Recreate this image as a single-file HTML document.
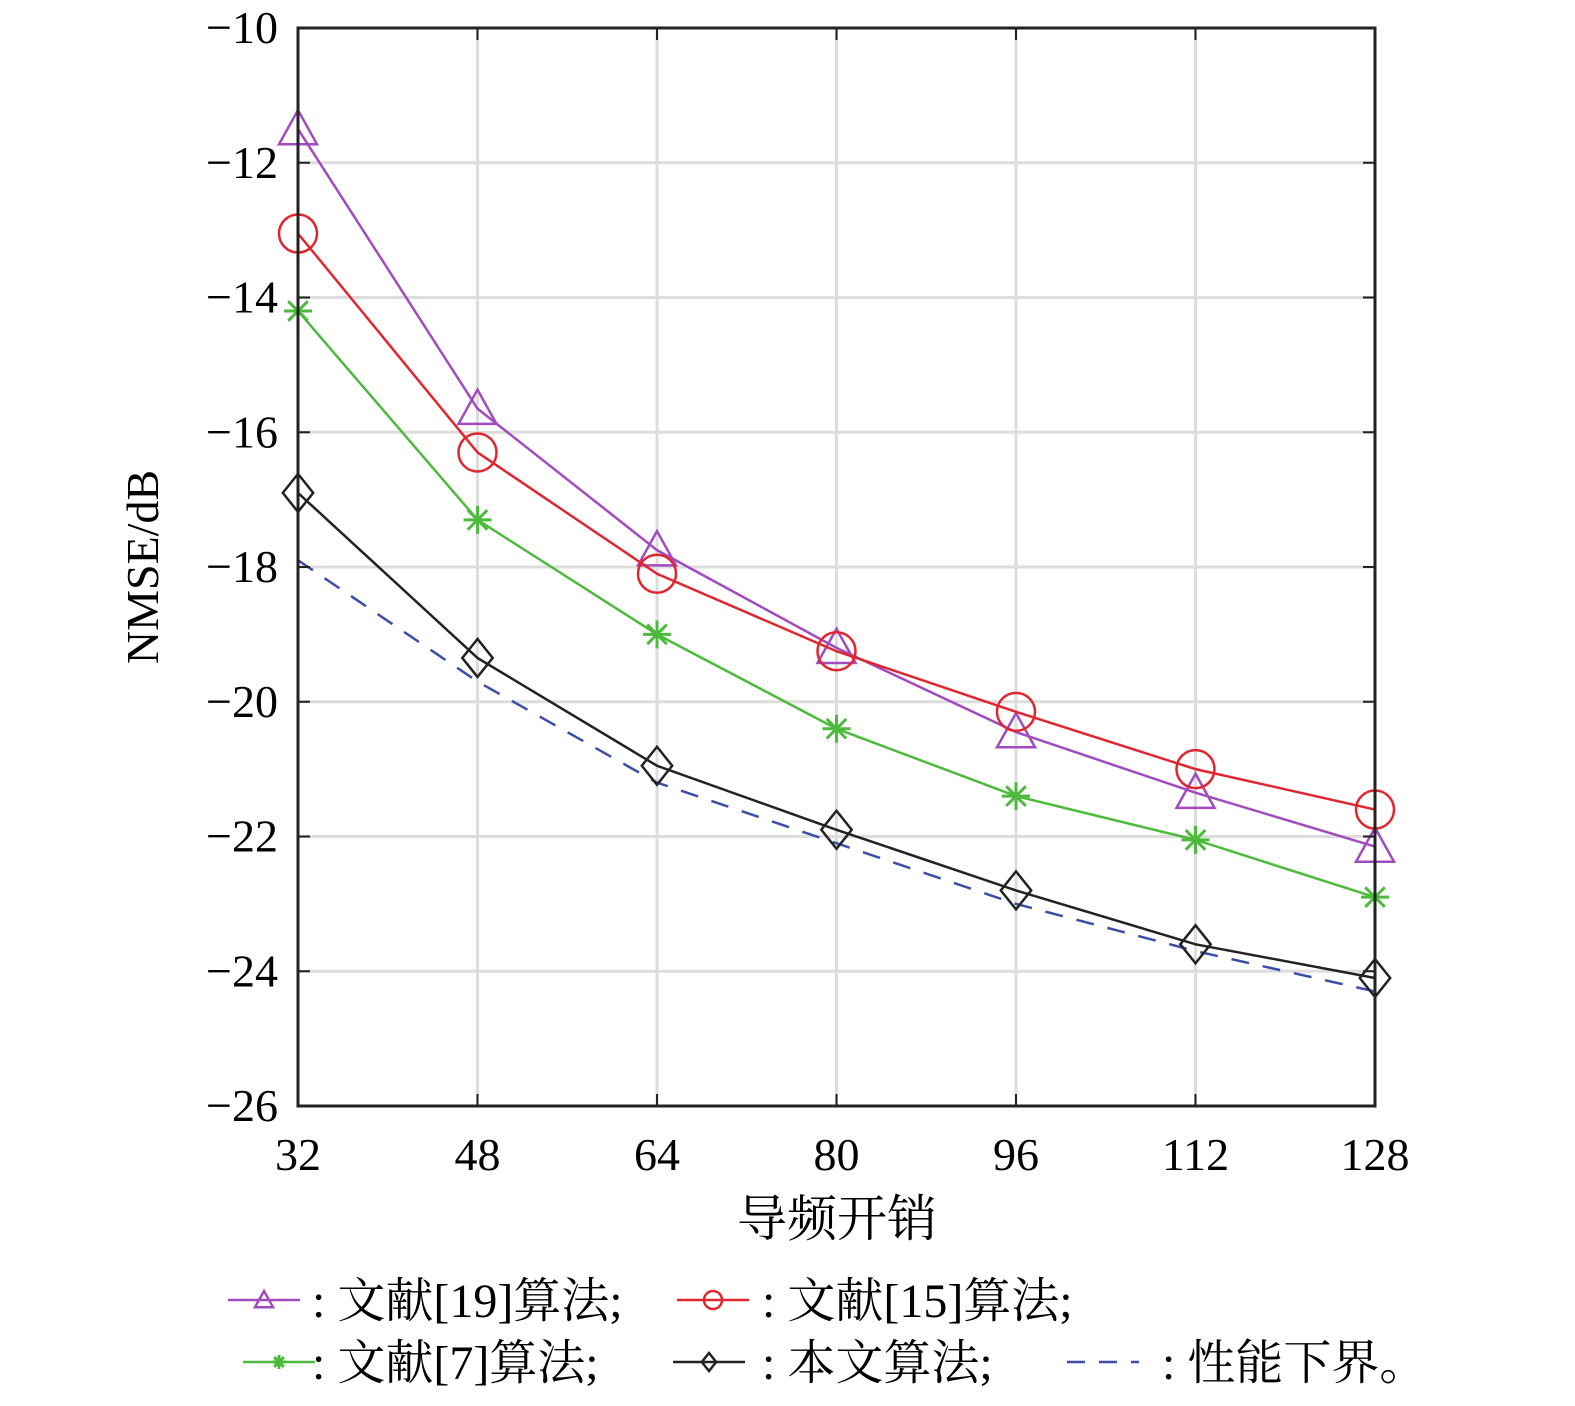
<!DOCTYPE html>
<html><head><meta charset="utf-8"><style>
body{margin:0;background:#fff}
svg text{font-family:"Liberation Serif","Noto Serif CJK SC","Noto Sans CJK SC",serif}
</style></head><body>
<svg id="chart" width="1575" height="1401" viewBox="0 0 1575 1401" xmlns="http://www.w3.org/2000/svg">
<g id="grid"></g>
<g id="series"></g>
<rect x="298" y="28" width="1077" height="1078" fill="none" stroke="#222" stroke-width="3"/>
<g id="ticks"></g>
<text x="837" y="1236" font-size="50" text-anchor="middle">导频开销</text>
<text transform="translate(158,567) rotate(-90)" font-size="46" text-anchor="middle">NMSE/dB</text>
<g id="legend"></g>
</svg>
<script>
const categories=[32,48,64,80,96,112,128];
const ref19=[-11.5,-15.65,-17.75,-19.2,-20.45,-21.35,-22.15];
const ref15=[-13.05,-16.3,-18.1,-19.25,-20.15,-21.0,-21.6];
const ref7=[-14.2,-17.3,-19.0,-20.4,-21.4,-22.05,-22.9];
const ours=[-16.9,-19.35,-20.95,-21.9,-22.8,-23.6,-24.1];
const bound=[-17.9,-19.7,-21.2,-22.1,-23.0,-23.7,-24.3];
const yTicks=[-10,-12,-14,-16,-18,-20,-22,-24,-26];
const NS="http://www.w3.org/2000/svg";
const X=v=>298+(v-32)/96*1077;
const Y=v=>28+(-10-v)/16*1078;
function mk(tag,attrs,parent){const e=document.createElementNS(NS,tag);for(const k in attrs)e.setAttribute(k,attrs[k]);parent.appendChild(e);return e;}
const grid=document.getElementById('grid'),ticks=document.getElementById('ticks'),ser=document.getElementById('series'),leg=document.getElementById('legend');
categories.forEach(c=>{
 const l=mk('line',{x1:X(c),x2:X(c),y1:28,y2:1106,stroke:'#ddd','stroke-width':3},grid);
 
 
 const t=mk('text',{x:X(c),y:1170,'font-size':46,'text-anchor':'middle'},ticks);t.textContent=c;
 
 
 mk('line',{x1:X(c),x2:X(c),y1:1106,y2:1094,stroke:'#222','stroke-width':2},ticks);
 mk('line',{x1:X(c),x2:X(c),y1:28,y2:40,stroke:'#222','stroke-width':2},ticks);
});
yTicks.forEach(v=>{
 const l=mk('line',{x1:298,x2:1375,y1:Y(v),y2:Y(v),stroke:'#ddd','stroke-width':3},grid);
 
 
 const t=mk('text',{x:278,y:Y(v)+15,'font-size':46,'text-anchor':'end'},ticks);t.textContent='−'+Math.abs(v);
 
 
 mk('line',{x1:298,x2:310,y1:Y(v),y2:Y(v),stroke:'#222','stroke-width':2},ticks);
 mk('line',{x1:1375,x2:1363,y1:Y(v),y2:Y(v),stroke:'#222','stroke-width':2},ticks);
});
function marker(type,x,y,color,s,parent){
 let e;
 if(type==='tri')e=mk('polygon',{points:`${x},${y-s} ${x-s},${y+s*0.8} ${x+s},${y+s*0.8}`,fill:'none',stroke:color,'stroke-width':2.5},parent);
 else if(type==='circ')e=mk('circle',{cx:x,cy:y,r:s,fill:'none',stroke:color,'stroke-width':2.5},parent);
 else if(type==='dia')e=mk('polygon',{points:`${x},${y-s} ${x+s*0.8},${y} ${x},${y+s} ${x-s*0.8},${y}`,fill:'none',stroke:color,'stroke-width':2.5},parent);
 else if(type==='star'){e=mk('path',{d:`M${x-s} ${y}H${x+s}M${x} ${y-s}V${y+s}M${x-s*.7} ${y-s*.7}L${x+s*.7} ${y+s*.7}M${x-s*.7} ${y+s*.7}L${x+s*.7} ${y-s*.7}`,stroke:color,'stroke-width':3},parent);}
 if(e){}
}
const defs=[[bound,'#3b4fa8',null,'18,14','bound'],[ref19,'#a24bbf','tri',null,'ref19'],[ref15,'#e0262e','circ',null,'ref15'],[ref7,'#4cbb3c','star',null,'ref7'],[ours,'#222','dia',null,'ours']];
defs.forEach(([d,col,m,dash,nm])=>{
 const p=mk('polyline',{points:d.map((v,i)=>X(categories[i])+','+Y(v)).join(' '),fill:'none',stroke:col,'stroke-width':2.5},ser);
 if(dash)p.setAttribute('stroke-dasharray',dash);
 
 
 if(m)d.forEach((v,i)=>marker(m,X(categories[i]),Y(v),col,m==='star'?14:19,ser));
});
const items=[[228,1300,'#a24bbf','tri',null,': 文献[19]算法;',312],[677,1300,'#e0262e','circ',null,': 文献[15]算法;',762],[243,1362,'#4cbb3c','star',null,': 文献[7]算法;',312],[673,1362,'#222','dia',null,': 本文算法;',762],[1067,1362,'#3b4fa8',null,'18,14',': 性能下界。',1162]];
items.forEach(([x,y,col,m,dash,txt,tx])=>{
 const g=mk('g',{},leg);
 
 
 const l=mk('line',{x1:x,x2:x+72,y1:y,y2:y,stroke:col,'stroke-width':2.5},g);
 if(dash)l.setAttribute('stroke-dasharray',dash);
 if(m)marker(m,x+36,y,col,m==='star'?7:9,g);
 const t=mk('text',{x:tx,y:y+17,'font-size':48},g);t.textContent=txt;
 
 
});
</script>
</body></html>
